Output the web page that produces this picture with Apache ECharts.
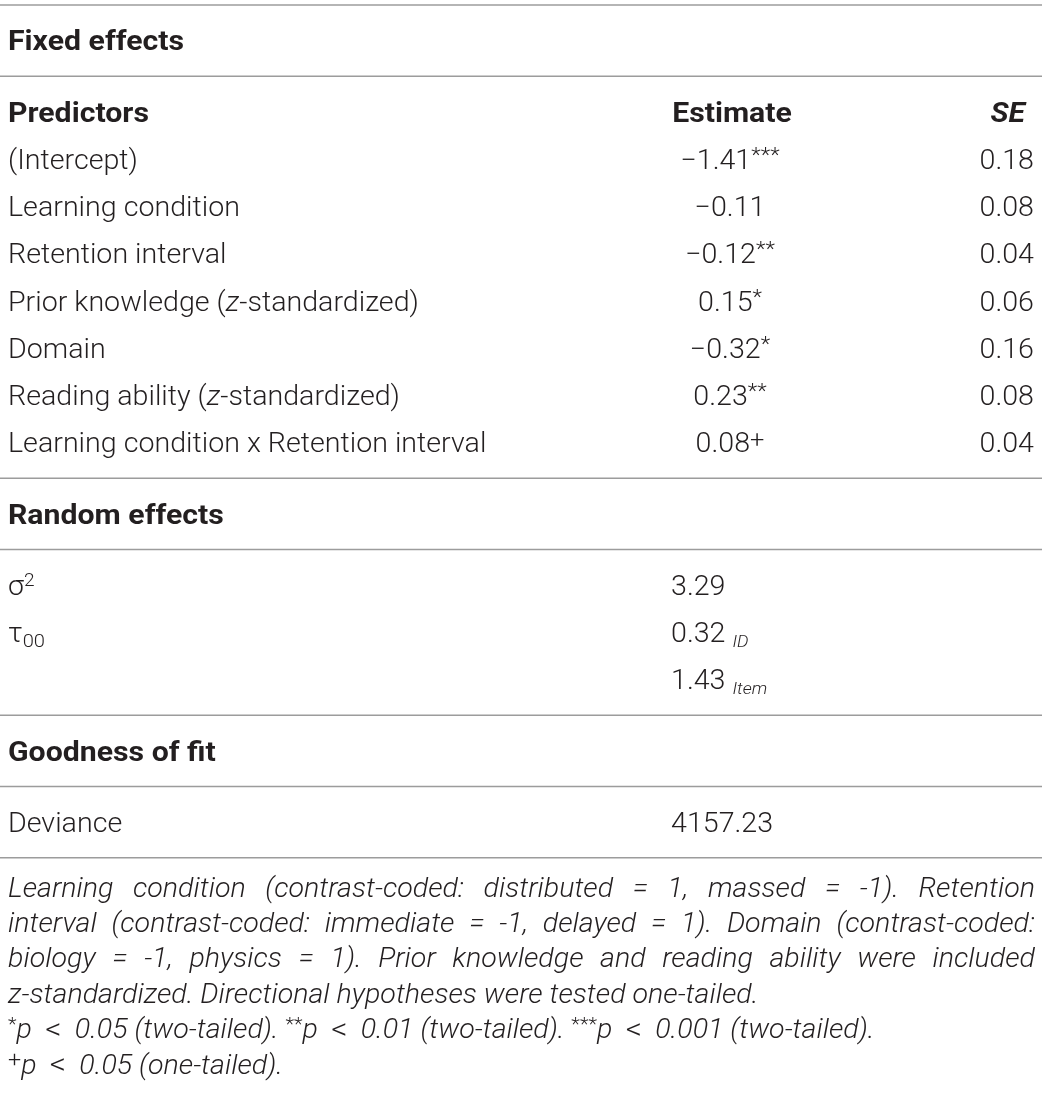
<!DOCTYPE html>
<html>
<head>
<meta charset="utf-8">
<script src="https://cdn.jsdelivr.net/npm/echarts@6/dist/echarts.min.js"></script>
<style>
html, body { margin: 0; padding: 0; background: #fff; }
#main { width: 1042px; height: 1094px; }
</style>
</head>
<body>
<div id="main"></div>
<script>
// table content
var sectionTitles = ['Fixed effects', 'Random effects', 'Goodness of fit'];
var columnHeaders = ['Predictors', 'Estimate', 'SE'];
var predictors = ['(Intercept)', 'Learning condition', 'Retention interval',
    'Prior knowledge (z-standardized)', 'Domain', 'Reading ability (z-standardized)',
    'Learning condition x Retention interval'];
var estimates = ['\u22121.41', '\u22120.11', '\u22120.12', '0.15', '\u22120.32', '0.23', '0.08'];
var estimateMarks = ['***', '', '**', '*', '*', '**', '+'];
var standardErrors = ['0.18', '0.08', '0.04', '0.06', '0.16', '0.08', '0.04'];
var randomTerms = ['\u03c3', '\u03c4', ''];
var randomTermSup = ['2', '', ''];
var randomTermSub = ['', '00', ''];
var randomValues = ['3.29', '0.32', '1.43'];
var randomGroups = ['', 'ID', 'Item'];
var fitLabels = ['Deviance'];
var fitValues = ['4157.23'];
var noteLines = [
    'Learning condition (contrast-coded: distributed = 1, massed = -1). Retention',
    'interval (contrast-coded: immediate = -1, delayed = 1). Domain (contrast-coded:',
    'biology = -1, physics = 1). Prior knowledge and reading ability were included',
    'z-standardized. Directional hypotheses were tested one-tailed.',
    '{nsup|*}p < 0.05 (two-tailed). {nsup|**}p < 0.01 (two-tailed). {nsup|***}p < 0.001 (two-tailed).',
    '{nplus|+}p < 0.05 (one-tailed).'
];
var justifiedNotes = 3;

/*---------------------------- layout ----------------------------*/
var W = 1042, H = 1094;
var TOP = 5, ROW = 47.25, PAD = 12;
var NOTE_FIRST = 29, NOTE_ROW = 35.4;
var TEXT_DY = 3;
var LEFT = 8, EST_X = 730, SE_X = 1034, VAL_X = 671, NOTE_RIGHT = 1035;

var ink = '#231f20';
var ruleColor = '#9c9c9c';
var FONT = 'Roboto, "Liberation Sans", sans-serif';

// Roboto is narrower than the original face, so text is widened a little
var styles = {
    head: { fontFamily: FONT, fontSize: 27, fontWeight: 'bold', fontStyle: 'normal', lineHeight: 32, scale: 1.12 },
    headItalic: { fontFamily: FONT, fontSize: 27, fontWeight: 'bold', fontStyle: 'italic', lineHeight: 32, scale: 1.12 },
    body: { fontFamily: FONT, fontSize: 27, fontWeight: 300, fontStyle: 'normal', lineHeight: 32, scale: 1.06 },
    note: { fontFamily: FONT, fontSize: 27, fontWeight: 300, fontStyle: 'italic', lineHeight: 32, scale: 1.06 }
};

var rich = {
    i: { fontFamily: FONT, fontSize: 27, fontWeight: 300, fontStyle: 'italic', lineHeight: 32, fill: ink },
    sup: { fontFamily: FONT, fontSize: 21, fontWeight: 300, lineHeight: 23, verticalAlign: 'top', fill: ink },
    plus: { fontFamily: FONT, fontSize: 24, fontWeight: 300, lineHeight: 22, verticalAlign: 'top', fill: ink },
    nsup: { fontFamily: FONT, fontSize: 19, fontWeight: 300, lineHeight: 22, verticalAlign: 'top', fill: ink },
    nplus: { fontFamily: FONT, fontSize: 22, fontWeight: 300, lineHeight: 20, verticalAlign: 'top', fill: ink },
    lt: { fontFamily: FONT, fontSize: 30, fontWeight: 300, lineHeight: 32, padding: [0, 6], fill: ink },
    sup2: { fontFamily: FONT, fontSize: 18, fontWeight: 300, lineHeight: 20, verticalAlign: 'top', fill: ink },
    sub: { fontFamily: FONT, fontSize: 19, fontWeight: 300, lineHeight: 22, verticalAlign: 'bottom', fill: ink },
    subI: { fontFamily: FONT, fontSize: 17, fontWeight: 300, fontStyle: 'italic', lineHeight: 20, verticalAlign: 'bottom', fill: ink }
};

var cells = [];
var rules = [];
var cursor = TOP;
rules.push(cursor);

function addRows(rows) {
    cursor += PAD;
    rows.forEach(function (row) {
        var cy = cursor + ROW / 2;
        row.forEach(function (c) {
            c.value = [c.x, cy];
            cells.push(c);
        });
        cursor += ROW;
    });
    cursor += PAD;
    rules.push(cursor);
}

function cell(x, text, kind, align) {
    return { x: x, text: text, kind: kind, align: align || 'left' };
}

// fixed effects
addRows([[cell(LEFT, sectionTitles[0], 'head')]]);
var fixedRows = [[
    cell(LEFT, columnHeaders[0], 'head'),
    cell(EST_X + 2, columnHeaders[1], 'head', 'center'),
    cell(SE_X - 9, columnHeaders[2], 'headItalic', 'right')
]];
predictors.forEach(function (name, i) {
    var mark = estimateMarks[i] ? (estimateMarks[i] === '+' ? '{plus|+}' : '{sup|' + estimateMarks[i] + '}') : '';
    fixedRows.push([
        cell(LEFT, name.replace('(z-', '({i|z}-'), 'body'),
        cell(EST_X, estimates[i] + mark, 'body', 'center'),
        cell(SE_X, standardErrors[i], 'body', 'right')
    ]);
});
addRows(fixedRows);

// random effects
addRows([[cell(LEFT, sectionTitles[1], 'head')]]);
addRows(randomValues.map(function (v, i) {
    var term = randomTerms[i] +
        (randomTermSup[i] ? '{sup2|' + randomTermSup[i] + '}' : '') +
        (randomTermSub[i] ? '{sub|' + randomTermSub[i] + '}' : '');
    var value = v + (randomGroups[i] ? ' {subI|' + randomGroups[i] + '}' : '');
    return [cell(LEFT, term, 'body'), cell(VAL_X, value, 'body')];
}));

// goodness of fit
addRows([[cell(LEFT, sectionTitles[2], 'head')]]);
addRows(fitLabels.map(function (label, i) {
    return [cell(LEFT, label, 'body'), cell(VAL_X, fitValues[i], 'body')];
}));

// notes
noteLines.forEach(function (line, i) {
    var c = cell(LEFT, line.replace(/ < /g, ' {lt|<} '), 'note');
    c.justify = i < justifiedNotes;
    c.value = [LEFT, cursor + NOTE_FIRST + i * NOTE_ROW];
    cells.push(c);
});

/*---------------------------- drawing ----------------------------*/
var measureCtx = document.createElement('canvas').getContext('2d');
function textWidth(s, st) {
    measureCtx.font = st.fontStyle + ' ' + st.fontWeight + ' ' + st.fontSize + 'px ' + st.fontFamily;
    return measureCtx.measureText(s).width * st.scale;
}

function textStyle(st, text, align) {
    return {
        text: text,
        fontFamily: st.fontFamily,
        fontSize: st.fontSize,
        fontWeight: st.fontWeight,
        fontStyle: st.fontStyle,
        lineHeight: st.lineHeight,
        fill: ink,
        align: align,
        verticalAlign: 'middle',
        rich: rich
    };
}

function renderRule(params, api) {
    var a = api.coord([0, api.value(1)]);
    var b = api.coord([W, api.value(1)]);
    return {
        type: 'line',
        shape: { x1: a[0], y1: a[1], x2: b[0], y2: b[1] },
        style: { stroke: ruleColor, lineWidth: 1.5 }
    };
}

function renderCell(params, api) {
    var c = cells[params.dataIndex];
    var p = api.coord([api.value(0), api.value(1)]);
    var y = p[1] + TEXT_DY;
    var st = styles[c.kind];
    if (c.justify) {
        var words = c.text.split(' ');
        var widths = words.map(function (w) { return textWidth(w, st); });
        var total = widths.reduce(function (s, w) { return s + w; }, 0);
        var right = api.coord([NOTE_RIGHT, 0])[0];
        var gap = (right - p[0] - total) / (words.length - 1);
        var x = p[0];
        var children = words.map(function (w, k) {
            var el = { type: 'text', x: x, y: y, scaleX: st.scale, style: textStyle(st, w, 'left') };
            x += widths[k] + gap;
            return el;
        });
        return { type: 'group', children: children };
    }
    return { type: 'text', x: p[0], y: y, scaleX: st.scale, style: textStyle(st, c.text, c.align) };
}

var myChart = echarts.init(document.getElementById('main'));
var option = {
    animation: false,
    grid: { left: 0, right: 0, top: 0, bottom: 0 },
    xAxis: { type: 'value', min: 0, max: W, show: false },
    yAxis: { type: 'value', min: 0, max: H, inverse: true, show: false },
    series: [
        {
            type: 'custom',
            silent: true,
            clip: false,
            renderItem: renderRule,
            encode: { x: 0, y: 1 },
            data: rules.map(function (y) { return [0, y]; })
        },
        {
            type: 'custom',
            silent: true,
            clip: false,
            renderItem: renderCell,
            encode: { x: 0, y: 1 },
            data: cells.map(function (c) { return c.value; })
        }
    ]
};
myChart.setOption(option);
</script>
</body>
</html>
